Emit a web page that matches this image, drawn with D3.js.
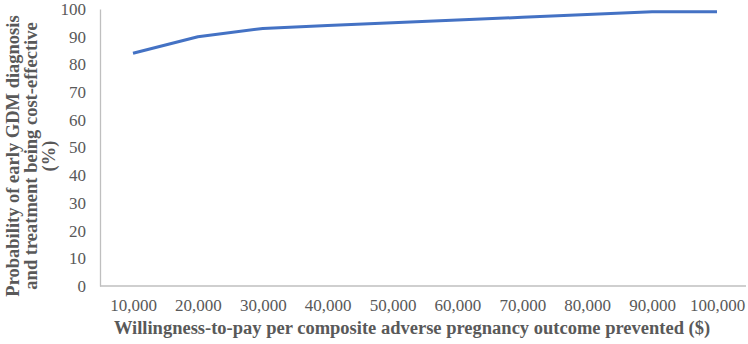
<!DOCTYPE html>
<html>
<head>
<meta charset="utf-8">
<script src="https://cdn.jsdelivr.net/npm/d3@7"></script>
<style>
  body { margin: 0; background: #fff; }
</style>
</head>
<body>
<script>
var width = 748, height = 344;
var serif = "Liberation Serif";

// data
var wtp = ["10,000", "20,000", "30,000", "40,000", "50,000", "60,000", "70,000", "80,000", "90,000", "100,000"];
var prob = [84, 90, 93, 94, 95, 96, 97, 98, 99, 99];
var yTicks = [0, 10, 20, 30, 40, 50, 60, 70, 80, 90, 100];

var svg = d3.select("body").append("svg")
  .attr("width", width)
  .attr("height", height)
  .attr("font-family", serif);

var x = d3.scalePoint()
  .domain(wtp)
  .range([133, 717]);

var y = d3.scaleLinear()
  .domain([0, 100])
  .range([286, 9]);

// y axis
var yAxis = svg.append("g")
  .attr("transform", "translate(100,0)")
  .call(d3.axisLeft(y).tickValues(yTicks).tickSize(0).tickPadding(14));
yAxis.attr("font-family", serif);
yAxis.select(".domain").attr("stroke", "#bfbfbf").attr("stroke-width", 1.3);
yAxis.selectAll("text").attr("font-size", 17).attr("fill", "#595959");

// x axis
var xAxis = svg.append("g")
  .attr("transform", "translate(0,286)")
  .call(d3.axisBottom(x).tickSize(0).tickPadding(13));
xAxis.attr("font-family", serif);
xAxis.select(".domain").attr("d", "M100,0H746").attr("stroke", "#bfbfbf").attr("stroke-width", 1.3);
xAxis.selectAll("text").attr("font-size", 17).attr("fill", "#595959");

// line
var line = d3.line()
  .x(function(d, i){ return x(wtp[i]); })
  .y(function(d){ return y(d); });

svg.append("path")
  .datum(prob)
  .attr("d", line)
  .attr("fill", "none")
  .attr("stroke", "#4472C4")
  .attr("stroke-width", 3)
  .attr("stroke-linejoin", "round");

// titles
svg.append("text")
  .attr("x", 412)
  .attr("y", 334)
  .attr("text-anchor", "middle")
  .attr("font-size", 18.5)
  .attr("font-weight", "bold")
  .attr("fill", "#595959")
  .text("Willingness-to-pay per composite adverse pregnancy outcome prevented ($)");

var ytitle = svg.append("text")
  .attr("transform", "translate(0,156) rotate(-90)")
  .attr("text-anchor", "middle")
  .attr("font-size", 18.5)
  .attr("font-weight", "bold")
  .attr("fill", "#595959");
var ylines = ["Probability of early GDM diagnosis", "and treatment being cost-effective", "(%)"];
ylines.forEach(function(t, i){
  ytitle.append("tspan").attr("x", 0).attr("y", 19 + i * 18).text(t);
});
</script>
</body>
</html>
